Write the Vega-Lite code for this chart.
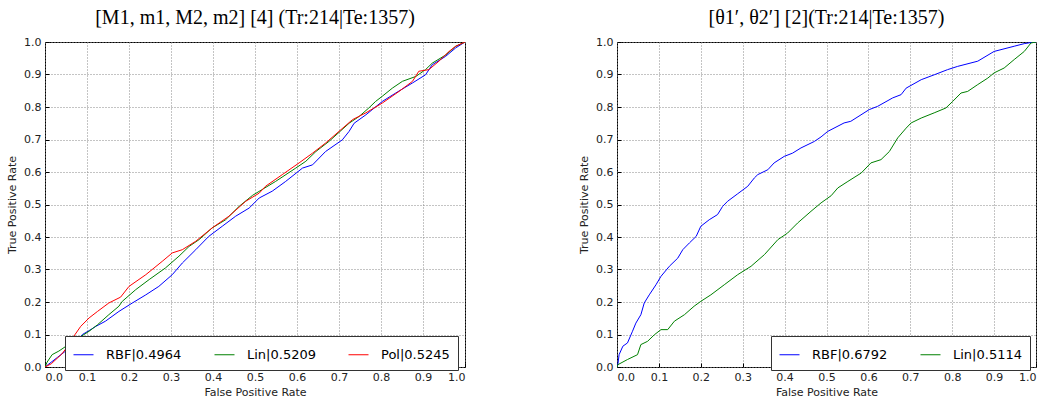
{
  "$schema": "https://vega.github.io/schema/vega-lite/v6.json",
  "padding": {"left": 6, "top": 7, "right": 0, "bottom": 0},
  "spacing": 112,
  "datasets": {
    "left": [
      {"s": "RBF|0.4964", "fpr": 0, "tpr": 0}, {"s": "RBF|0.4964", "fpr": 0.03, "tpr": 0.03}, {"s": "RBF|0.4964", "fpr": 0.06, "tpr": 0.06}, {"s": "RBF|0.4964", "fpr": 0.089, "tpr": 0.1}, {"s": "RBF|0.4964", "fpr": 0.105, "tpr": 0.112}, {"s": "RBF|0.4964", "fpr": 0.121, "tpr": 0.125}, {"s": "RBF|0.4964", "fpr": 0.144, "tpr": 0.141}, {"s": "RBF|0.4964", "fpr": 0.176, "tpr": 0.171}, {"s": "RBF|0.4964", "fpr": 0.208, "tpr": 0.197}, {"s": "RBF|0.4964", "fpr": 0.24, "tpr": 0.222}, {"s": "RBF|0.4964", "fpr": 0.271, "tpr": 0.248}, {"s": "RBF|0.4964", "fpr": 0.303, "tpr": 0.284}, {"s": "RBF|0.4964", "fpr": 0.327, "tpr": 0.32}, {"s": "RBF|0.4964", "fpr": 0.359, "tpr": 0.361}, {"s": "RBF|0.4964", "fpr": 0.39, "tpr": 0.402}, {"s": "RBF|0.4964", "fpr": 0.422, "tpr": 0.433}, {"s": "RBF|0.4964", "fpr": 0.454, "tpr": 0.464}, {"s": "RBF|0.4964", "fpr": 0.486, "tpr": 0.489}, {"s": "RBF|0.4964", "fpr": 0.51, "tpr": 0.52}, {"s": "RBF|0.4964", "fpr": 0.541, "tpr": 0.541}, {"s": "RBF|0.4964", "fpr": 0.573, "tpr": 0.571}, {"s": "RBF|0.4964", "fpr": 0.613, "tpr": 0.612}, {"s": "RBF|0.4964", "fpr": 0.637, "tpr": 0.622}, {"s": "RBF|0.4964", "fpr": 0.668, "tpr": 0.663}, {"s": "RBF|0.4964", "fpr": 0.708, "tpr": 0.699}, {"s": "RBF|0.4964", "fpr": 0.724, "tpr": 0.725}, {"s": "RBF|0.4964", "fpr": 0.736, "tpr": 0.75}, {"s": "RBF|0.4964", "fpr": 0.764, "tpr": 0.776}, {"s": "RBF|0.4964", "fpr": 0.803, "tpr": 0.817}, {"s": "RBF|0.4964", "fpr": 0.835, "tpr": 0.843}, {"s": "RBF|0.4964", "fpr": 0.875, "tpr": 0.874}, {"s": "RBF|0.4964", "fpr": 0.906, "tpr": 0.899}, {"s": "RBF|0.4964", "fpr": 0.922, "tpr": 0.93}, {"s": "RBF|0.4964", "fpr": 0.954, "tpr": 0.956}, {"s": "RBF|0.4964", "fpr": 0.978, "tpr": 0.982}, {"s": "RBF|0.4964", "fpr": 1, "tpr": 1},
      {"s": "Lin|0.5209", "fpr": 0, "tpr": 0}, {"s": "Lin|0.5209", "fpr": 0.005, "tpr": 0.015}, {"s": "Lin|0.5209", "fpr": 0.017, "tpr": 0.038}, {"s": "Lin|0.5209", "fpr": 0.033, "tpr": 0.049}, {"s": "Lin|0.5209", "fpr": 0.057, "tpr": 0.07}, {"s": "Lin|0.5209", "fpr": 0.093, "tpr": 0.1}, {"s": "Lin|0.5209", "fpr": 0.105, "tpr": 0.11}, {"s": "Lin|0.5209", "fpr": 0.125, "tpr": 0.13}, {"s": "Lin|0.5209", "fpr": 0.152, "tpr": 0.161}, {"s": "Lin|0.5209", "fpr": 0.176, "tpr": 0.187}, {"s": "Lin|0.5209", "fpr": 0.184, "tpr": 0.202}, {"s": "Lin|0.5209", "fpr": 0.216, "tpr": 0.238}, {"s": "Lin|0.5209", "fpr": 0.248, "tpr": 0.269}, {"s": "Lin|0.5209", "fpr": 0.287, "tpr": 0.305}, {"s": "Lin|0.5209", "fpr": 0.319, "tpr": 0.341}, {"s": "Lin|0.5209", "fpr": 0.343, "tpr": 0.371}, {"s": "Lin|0.5209", "fpr": 0.367, "tpr": 0.392}, {"s": "Lin|0.5209", "fpr": 0.398, "tpr": 0.428}, {"s": "Lin|0.5209", "fpr": 0.43, "tpr": 0.453}, {"s": "Lin|0.5209", "fpr": 0.462, "tpr": 0.494}, {"s": "Lin|0.5209", "fpr": 0.494, "tpr": 0.528}, {"s": "Lin|0.5209", "fpr": 0.517, "tpr": 0.546}, {"s": "Lin|0.5209", "fpr": 0.549, "tpr": 0.571}, {"s": "Lin|0.5209", "fpr": 0.597, "tpr": 0.612}, {"s": "Lin|0.5209", "fpr": 0.621, "tpr": 0.633}, {"s": "Lin|0.5209", "fpr": 0.645, "tpr": 0.663}, {"s": "Lin|0.5209", "fpr": 0.676, "tpr": 0.694}, {"s": "Lin|0.5209", "fpr": 0.724, "tpr": 0.75}, {"s": "Lin|0.5209", "fpr": 0.748, "tpr": 0.771}, {"s": "Lin|0.5209", "fpr": 0.771, "tpr": 0.797}, {"s": "Lin|0.5209", "fpr": 0.787, "tpr": 0.817}, {"s": "Lin|0.5209", "fpr": 0.803, "tpr": 0.833}, {"s": "Lin|0.5209", "fpr": 0.827, "tpr": 0.858}, {"s": "Lin|0.5209", "fpr": 0.851, "tpr": 0.879}, {"s": "Lin|0.5209", "fpr": 0.883, "tpr": 0.894}, {"s": "Lin|0.5209", "fpr": 0.906, "tpr": 0.915}, {"s": "Lin|0.5209", "fpr": 0.922, "tpr": 0.935}, {"s": "Lin|0.5209", "fpr": 0.954, "tpr": 0.96}, {"s": "Lin|0.5209", "fpr": 0.978, "tpr": 0.987}, {"s": "Lin|0.5209", "fpr": 1, "tpr": 1},
      {"s": "Pol|0.5245", "fpr": 0, "tpr": 0}, {"s": "Pol|0.5245", "fpr": 0.015, "tpr": 0.01}, {"s": "Pol|0.5245", "fpr": 0.04, "tpr": 0.04}, {"s": "Pol|0.5245", "fpr": 0.055, "tpr": 0.065}, {"s": "Pol|0.5245", "fpr": 0.071, "tpr": 0.099}, {"s": "Pol|0.5245", "fpr": 0.085, "tpr": 0.125}, {"s": "Pol|0.5245", "fpr": 0.105, "tpr": 0.151}, {"s": "Pol|0.5245", "fpr": 0.125, "tpr": 0.171}, {"s": "Pol|0.5245", "fpr": 0.152, "tpr": 0.197}, {"s": "Pol|0.5245", "fpr": 0.18, "tpr": 0.215}, {"s": "Pol|0.5245", "fpr": 0.2, "tpr": 0.248}, {"s": "Pol|0.5245", "fpr": 0.24, "tpr": 0.284}, {"s": "Pol|0.5245", "fpr": 0.279, "tpr": 0.325}, {"s": "Pol|0.5245", "fpr": 0.303, "tpr": 0.351}, {"s": "Pol|0.5245", "fpr": 0.327, "tpr": 0.361}, {"s": "Pol|0.5245", "fpr": 0.359, "tpr": 0.387}, {"s": "Pol|0.5245", "fpr": 0.398, "tpr": 0.428}, {"s": "Pol|0.5245", "fpr": 0.438, "tpr": 0.464}, {"s": "Pol|0.5245", "fpr": 0.478, "tpr": 0.51}, {"s": "Pol|0.5245", "fpr": 0.51, "tpr": 0.535}, {"s": "Pol|0.5245", "fpr": 0.525, "tpr": 0.556}, {"s": "Pol|0.5245", "fpr": 0.565, "tpr": 0.592}, {"s": "Pol|0.5245", "fpr": 0.605, "tpr": 0.628}, {"s": "Pol|0.5245", "fpr": 0.637, "tpr": 0.658}, {"s": "Pol|0.5245", "fpr": 0.668, "tpr": 0.689}, {"s": "Pol|0.5245", "fpr": 0.7, "tpr": 0.725}, {"s": "Pol|0.5245", "fpr": 0.732, "tpr": 0.761}, {"s": "Pol|0.5245", "fpr": 0.764, "tpr": 0.782}, {"s": "Pol|0.5245", "fpr": 0.803, "tpr": 0.812}, {"s": "Pol|0.5245", "fpr": 0.843, "tpr": 0.848}, {"s": "Pol|0.5245", "fpr": 0.875, "tpr": 0.879}, {"s": "Pol|0.5245", "fpr": 0.89, "tpr": 0.91}, {"s": "Pol|0.5245", "fpr": 0.914, "tpr": 0.915}, {"s": "Pol|0.5245", "fpr": 0.938, "tpr": 0.941}, {"s": "Pol|0.5245", "fpr": 0.962, "tpr": 0.971}, {"s": "Pol|0.5245", "fpr": 0.978, "tpr": 0.987}, {"s": "Pol|0.5245", "fpr": 1, "tpr": 1}
    ],
    "right": [
      {"s": "RBF|0.6792", "fpr": 0, "tpr": 0}, {"s": "RBF|0.6792", "fpr": 0.002, "tpr": 0.007}, {"s": "RBF|0.6792", "fpr": 0.005, "tpr": 0.038}, {"s": "RBF|0.6792", "fpr": 0.014, "tpr": 0.064}, {"s": "RBF|0.6792", "fpr": 0.025, "tpr": 0.074}, {"s": "RBF|0.6792", "fpr": 0.037, "tpr": 0.11}, {"s": "RBF|0.6792", "fpr": 0.045, "tpr": 0.135}, {"s": "RBF|0.6792", "fpr": 0.057, "tpr": 0.161}, {"s": "RBF|0.6792", "fpr": 0.065, "tpr": 0.197}, {"s": "RBF|0.6792", "fpr": 0.077, "tpr": 0.222}, {"s": "RBF|0.6792", "fpr": 0.093, "tpr": 0.253}, {"s": "RBF|0.6792", "fpr": 0.105, "tpr": 0.279}, {"s": "RBF|0.6792", "fpr": 0.125, "tpr": 0.31}, {"s": "RBF|0.6792", "fpr": 0.145, "tpr": 0.335}, {"s": "RBF|0.6792", "fpr": 0.157, "tpr": 0.361}, {"s": "RBF|0.6792", "fpr": 0.173, "tpr": 0.382}, {"s": "RBF|0.6792", "fpr": 0.189, "tpr": 0.402}, {"s": "RBF|0.6792", "fpr": 0.2, "tpr": 0.433}, {"s": "RBF|0.6792", "fpr": 0.22, "tpr": 0.453}, {"s": "RBF|0.6792", "fpr": 0.24, "tpr": 0.469}, {"s": "RBF|0.6792", "fpr": 0.252, "tpr": 0.494}, {"s": "RBF|0.6792", "fpr": 0.264, "tpr": 0.51}, {"s": "RBF|0.6792", "fpr": 0.288, "tpr": 0.533}, {"s": "RBF|0.6792", "fpr": 0.312, "tpr": 0.556}, {"s": "RBF|0.6792", "fpr": 0.328, "tpr": 0.582}, {"s": "RBF|0.6792", "fpr": 0.336, "tpr": 0.592}, {"s": "RBF|0.6792", "fpr": 0.36, "tpr": 0.607}, {"s": "RBF|0.6792", "fpr": 0.375, "tpr": 0.628}, {"s": "RBF|0.6792", "fpr": 0.399, "tpr": 0.648}, {"s": "RBF|0.6792", "fpr": 0.419, "tpr": 0.658}, {"s": "RBF|0.6792", "fpr": 0.439, "tpr": 0.674}, {"s": "RBF|0.6792", "fpr": 0.471, "tpr": 0.694}, {"s": "RBF|0.6792", "fpr": 0.487, "tpr": 0.708}, {"s": "RBF|0.6792", "fpr": 0.503, "tpr": 0.725}, {"s": "RBF|0.6792", "fpr": 0.542, "tpr": 0.751}, {"s": "RBF|0.6792", "fpr": 0.558, "tpr": 0.756}, {"s": "RBF|0.6792", "fpr": 0.602, "tpr": 0.792}, {"s": "RBF|0.6792", "fpr": 0.622, "tpr": 0.802}, {"s": "RBF|0.6792", "fpr": 0.658, "tpr": 0.828}, {"s": "RBF|0.6792", "fpr": 0.678, "tpr": 0.838}, {"s": "RBF|0.6792", "fpr": 0.69, "tpr": 0.858}, {"s": "RBF|0.6792", "fpr": 0.726, "tpr": 0.884}, {"s": "RBF|0.6792", "fpr": 0.757, "tpr": 0.899}, {"s": "RBF|0.6792", "fpr": 0.789, "tpr": 0.915}, {"s": "RBF|0.6792", "fpr": 0.813, "tpr": 0.925}, {"s": "RBF|0.6792", "fpr": 0.861, "tpr": 0.941}, {"s": "RBF|0.6792", "fpr": 0.9, "tpr": 0.971}, {"s": "RBF|0.6792", "fpr": 0.948, "tpr": 0.987}, {"s": "RBF|0.6792", "fpr": 0.972, "tpr": 0.995}, {"s": "RBF|0.6792", "fpr": 0.996, "tpr": 1}, {"s": "RBF|0.6792", "fpr": 1, "tpr": 1},
      {"s": "Lin|0.5114", "fpr": 0, "tpr": 0}, {"s": "Lin|0.5114", "fpr": 0.002, "tpr": 0.007}, {"s": "Lin|0.5114", "fpr": 0.025, "tpr": 0.023}, {"s": "Lin|0.5114", "fpr": 0.049, "tpr": 0.038}, {"s": "Lin|0.5114", "fpr": 0.057, "tpr": 0.069}, {"s": "Lin|0.5114", "fpr": 0.073, "tpr": 0.079}, {"s": "Lin|0.5114", "fpr": 0.089, "tpr": 0.099}, {"s": "Lin|0.5114", "fpr": 0.105, "tpr": 0.115}, {"s": "Lin|0.5114", "fpr": 0.121, "tpr": 0.115}, {"s": "Lin|0.5114", "fpr": 0.137, "tpr": 0.141}, {"s": "Lin|0.5114", "fpr": 0.161, "tpr": 0.161}, {"s": "Lin|0.5114", "fpr": 0.184, "tpr": 0.187}, {"s": "Lin|0.5114", "fpr": 0.2, "tpr": 0.202}, {"s": "Lin|0.5114", "fpr": 0.224, "tpr": 0.222}, {"s": "Lin|0.5114", "fpr": 0.256, "tpr": 0.253}, {"s": "Lin|0.5114", "fpr": 0.288, "tpr": 0.284}, {"s": "Lin|0.5114", "fpr": 0.32, "tpr": 0.31}, {"s": "Lin|0.5114", "fpr": 0.352, "tpr": 0.346}, {"s": "Lin|0.5114", "fpr": 0.384, "tpr": 0.392}, {"s": "Lin|0.5114", "fpr": 0.407, "tpr": 0.412}, {"s": "Lin|0.5114", "fpr": 0.431, "tpr": 0.443}, {"s": "Lin|0.5114", "fpr": 0.463, "tpr": 0.479}, {"s": "Lin|0.5114", "fpr": 0.487, "tpr": 0.505}, {"s": "Lin|0.5114", "fpr": 0.511, "tpr": 0.527}, {"s": "Lin|0.5114", "fpr": 0.527, "tpr": 0.551}, {"s": "Lin|0.5114", "fpr": 0.551, "tpr": 0.571}, {"s": "Lin|0.5114", "fpr": 0.583, "tpr": 0.597}, {"s": "Lin|0.5114", "fpr": 0.606, "tpr": 0.628}, {"s": "Lin|0.5114", "fpr": 0.63, "tpr": 0.638}, {"s": "Lin|0.5114", "fpr": 0.65, "tpr": 0.663}, {"s": "Lin|0.5114", "fpr": 0.67, "tpr": 0.705}, {"s": "Lin|0.5114", "fpr": 0.69, "tpr": 0.735}, {"s": "Lin|0.5114", "fpr": 0.702, "tpr": 0.751}, {"s": "Lin|0.5114", "fpr": 0.726, "tpr": 0.766}, {"s": "Lin|0.5114", "fpr": 0.757, "tpr": 0.782}, {"s": "Lin|0.5114", "fpr": 0.785, "tpr": 0.797}, {"s": "Lin|0.5114", "fpr": 0.801, "tpr": 0.817}, {"s": "Lin|0.5114", "fpr": 0.821, "tpr": 0.843}, {"s": "Lin|0.5114", "fpr": 0.837, "tpr": 0.848}, {"s": "Lin|0.5114", "fpr": 0.861, "tpr": 0.869}, {"s": "Lin|0.5114", "fpr": 0.885, "tpr": 0.889}, {"s": "Lin|0.5114", "fpr": 0.9, "tpr": 0.905}, {"s": "Lin|0.5114", "fpr": 0.924, "tpr": 0.92}, {"s": "Lin|0.5114", "fpr": 0.948, "tpr": 0.946}, {"s": "Lin|0.5114", "fpr": 0.972, "tpr": 0.971}, {"s": "Lin|0.5114", "fpr": 0.988, "tpr": 0.997}, {"s": "Lin|0.5114", "fpr": 1, "tpr": 1}
    ]
  },
  "hconcat": [
    {
      "width": 420,
      "height": 325,
      "title": "[M1, m1, M2, m2] [4] (Tr:214|Te:1357)",
      "data": {"name": "left"},
      "mark": {"type": "line", "strokeWidth": 1, "clip": true},
      "encoding": {
        "x": {"field": "fpr", "type": "quantitative", "title": "False Positive Rate", "scale": {"domain": [0, 1], "nice": false}, "axis": {"values": [0, 0.1, 0.2, 0.3, 0.4, 0.5, 0.6, 0.7, 0.8, 0.9, 1], "format": ".1f"}},
        "y": {"field": "tpr", "type": "quantitative", "title": "True Positive Rate", "scale": {"domain": [0, 1], "nice": false}, "axis": {"values": [0, 0.1, 0.2, 0.3, 0.4, 0.5, 0.6, 0.7, 0.8, 0.9, 1], "format": ".1f"}},
        "color": {"field": "s", "type": "nominal", "scale": {"domain": ["RBF|0.4964", "Lin|0.5209", "Pol|0.5245"], "range": ["#0000ff", "#008000", "#ff0000"]}, "legend": {"orient": "none", "legendX": 20, "legendY": 294, "direction": "horizontal", "columns": 3, "title": null}}
      }
    },
    {
      "width": 419,
      "height": 325,
      "title": "[θ1′, θ2′] [2](Tr:214|Te:1357)",
      "data": {"name": "right"},
      "mark": {"type": "line", "strokeWidth": 1, "clip": true},
      "encoding": {
        "x": {"field": "fpr", "type": "quantitative", "title": "False Positive Rate", "scale": {"domain": [0, 1], "nice": false}, "axis": {"values": [0, 0.1, 0.2, 0.3, 0.4, 0.5, 0.6, 0.7, 0.8, 0.9, 1], "format": ".1f"}},
        "y": {"field": "tpr", "type": "quantitative", "title": "True Positive Rate", "scale": {"domain": [0, 1], "nice": false}, "axis": {"values": [0, 0.1, 0.2, 0.3, 0.4, 0.5, 0.6, 0.7, 0.8, 0.9, 1], "format": ".1f"}},
        "color": {"field": "s", "type": "nominal", "scale": {"domain": ["RBF|0.6792", "Lin|0.5114"], "range": ["#0000ff", "#008000"]}, "legend": {"orient": "none", "legendX": 154, "legendY": 294, "direction": "horizontal", "columns": 2, "title": null}}
      }
    }
  ],
  "resolve": {"scale": {"color": "independent"}, "legend": {"color": "independent"}},
  "config": {
    "view": {"stroke": "#000000", "strokeWidth": 1},
    "title": {"font": "Liberation Serif", "fontSize": 20, "fontWeight": "normal", "color": "#000000", "offset": 8},
    "axis": {
      "domain": false,
      "ticks": true,
      "tickSize": -4,
      "tickColor": "#000000",
      "tickWidth": 1,
      "labelFont": "DejaVu Sans",
      "labelFontSize": 11,
      "labelColor": "#222222",
      "labelPadding": 8,
      "titleFont": "DejaVu Sans",
      "titleFontSize": 11,
      "titleFontWeight": "normal",
      "titleColor": "#222222",
      "gridColor": "#888888",
      "gridDash": [1, 2],
      "gridWidth": 1
    },
    "axisX": {"titlePadding": 4},
    "axisY": {"titlePadding": 6},
    "legend": {
      "symbolType": "stroke",
      "symbolSize": 400,
      "symbolStrokeWidth": 1,
      "labelFont": "DejaVu Sans",
      "labelFontSize": 13,
      "labelColor": "#000000",
      "labelOffset": 12,
      "columnPadding": 30,
      "padding": 8,
      "fillColor": "#ffffff",
      "strokeColor": "#333333",
      "strokeWidth": 1,
      "cornerRadius": 0
    }
  }
}
